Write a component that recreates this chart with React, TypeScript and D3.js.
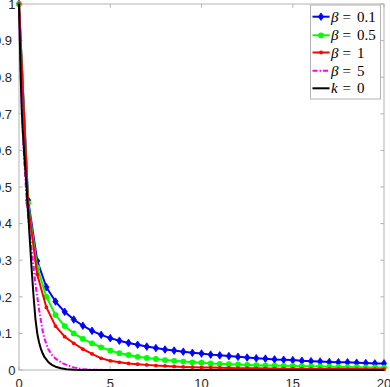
import React from "react";
import * as d3 from "d3";

const tGrid = [0, 0.5, 1, 1.5, 2, 2.5, 3, 3.5, 4, 4.5, 5, 5.5, 6, 6.5, 7, 7.5, 8, 8.5, 9, 9.5, 10, 10.5, 11, 11.5, 12, 12.5, 13, 13.5, 14, 14.5, 15, 15.5, 16, 16.5, 17, 17.5, 18, 18.5, 19, 19.5, 20];

const beta01 = [1, 0.464, 0.298, 0.226, 0.187, 0.159, 0.138, 0.121, 0.107, 0.096, 0.087, 0.080, 0.074, 0.069, 0.064, 0.060, 0.056, 0.053, 0.050, 0.047, 0.045, 0.042, 0.040, 0.038, 0.036, 0.034, 0.032, 0.031, 0.029, 0.028, 0.027, 0.025, 0.024, 0.023, 0.022, 0.021, 0.021, 0.020, 0.019, 0.018, 0.018];

const beta05 = [1, 0.456, 0.28, 0.2, 0.15, 0.12, 0.1, 0.085, 0.073, 0.062, 0.053, 0.046, 0.041, 0.036, 0.033, 0.030, 0.027, 0.025, 0.023, 0.021, 0.020, 0.018, 0.017, 0.016, 0.015, 0.014, 0.013, 0.0125, 0.012, 0.0115, 0.011, 0.0105, 0.010, 0.0095, 0.009, 0.0085, 0.008, 0.0075, 0.007, 0.0068, 0.0065];

const beta1 = [1, 0.45, 0.261, 0.171, 0.12, 0.091, 0.073, 0.057, 0.044, 0.032, 0.025, 0.021, 0.018, 0.016, 0.014, 0.012, 0.011, 0.0095, 0.0085, 0.0078, 0.007, 0.0065, 0.006, 0.0055, 0.005, 0.0048, 0.0045, 0.0042, 0.004, 0.0037, 0.0035, 0.0033, 0.003, 0.0029, 0.0028, 0.0026, 0.0025, 0.0024, 0.0023, 0.0021, 0.002];

const beta5X = [0, 0.1, 0.2, 0.3, 0.4, 0.5, 0.6, 0.7, 0.8, 0.9, 1, 1.1, 1.2, 1.3, 1.4, 1.6, 1.8, 2, 2.2, 2.4, 2.7, 3, 3.5, 4, 5, 10, 20];
const beta5 = [1, 0.8, 0.66, 0.56, 0.48, 0.42, 0.37, 0.325, 0.28, 0.235, 0.2, 0.165, 0.135, 0.105, 0.085, 0.057, 0.041, 0.031, 0.024, 0.018, 0.012, 0.007, 0.0025, 0.0008, 0, 0, 0];

const k0X = [0, 0.05, 0.1, 0.15, 0.2, 0.25, 0.3, 0.4, 0.5, 0.6, 0.7, 0.8, 0.9, 1, 1.1, 1.2, 1.3, 1.4, 1.6, 1.8, 2, 2.3, 2.6, 3, 3.5, 4, 10, 20];
const k0 = [1, 0.89, 0.79, 0.71, 0.66, 0.62, 0.58, 0.51, 0.43, 0.35, 0.27, 0.2, 0.14, 0.1, 0.075, 0.058, 0.045, 0.035, 0.022, 0.014, 0.009, 0.005, 0.002, 0.0007, 0.0002, 0, 0, 0];

const xTicks = [0, 5, 10, 15, 20];
const yTicks = [0, 0.1, 0.2, 0.3, 0.4, 0.5, 0.6, 0.7, 0.8, 0.9, 1];
const yTickLabels = ["0", "0.1", "0.2", "0.3", "0.4", "0.5", "0.6", "0.7", "0.8", "0.9", "1"];
const legendLabels = [
  { sym: "β", val: "0.1" },
  { sym: "β", val: "0.5" },
  { sym: "β", val: "1" },
  { sym: "β", val: "5" },
  { sym: "k", val: "0" },
];

const W = 390;
const H = 387;
const left = 19;
const right = 384;
const top = 4;
const bottom = 370;

export default function App() {
  const x = d3.scaleLinear().domain([0, 20]).range([left, right]);
  const y = d3.scaleLinear().domain([0, 1]).range([bottom, top]);
  const line = d3
    .line<[number, number]>()
    .x((d) => x(d[0]))
    .y((d) => y(d[1]));

  const zip = (xs: number[], ys: number[]) => xs.map((v, i) => [v, ys[i]] as [number, number]);

  const axisColor = "#b3b3b3";
  const textColor = "#262626";

  const diamond = (cx: number, cy: number, key: string | number) => (
    <path
      key={key}
      d={`M${cx},${cy - 3.8}L${cx + 2.6},${cy}L${cx},${cy + 3.8}L${cx - 2.6},${cy}Z`}
      fill="#0000ff"
      stroke="#0000ff"
      strokeWidth={0.8}
    />
  );

  const series = [
    { data: zip(tGrid, beta01), color: "#0000ff", marker: "diamond" },
    { data: zip(tGrid, beta05), color: "#00ff00", marker: "circle" },
    { data: zip(tGrid, beta1), color: "#ff0000", marker: "dot" },
    { data: zip(beta5X, beta5), color: "#ff00ff", marker: "none", dash: "5,2,1.5,2" },
    { data: zip(k0X, k0), color: "#000000", marker: "none" },
  ];

  const drawMarker = (m: string, cx: number, cy: number, key: string | number) => {
    if (m === "diamond") return diamond(cx, cy, key);
    if (m === "circle") return <circle key={key} cx={cx} cy={cy} r={2.9} fill="#00ff00" />;
    if (m === "dot") return <circle key={key} cx={cx} cy={cy} r={1.9} fill="#ff0000" />;
    return null;
  };

  const legX = 310.5;
  const legY = 5;
  const legW = 70;
  const legH = 94;
  const legRows = [16.7, 35.3, 52.5, 70.7, 88.3];

  return (
    <svg
      width={W}
      height={H}
      style={{ position: "absolute", left: 0, top: 0, background: "#fff" }}
      fontFamily="'Liberation Sans', Arial, sans-serif"
    >
      <rect x={0} y={0} width={W} height={H} fill="#fff" />
      {/* axes box */}
      <rect x={left} y={top} width={right - left} height={bottom - top} fill="none" stroke={axisColor} strokeWidth={1} />
      {xTicks.map((t) => (
        <g key={"xt" + t}>
          <line x1={x(t)} x2={x(t)} y1={bottom} y2={bottom - 3.7} stroke={axisColor} />
          <line x1={x(t)} x2={x(t)} y1={top} y2={top + 3.7} stroke={axisColor} />
          <text x={x(t)} y={388} fontSize={13} textAnchor="middle" fill={textColor}>
            {t}
          </text>
        </g>
      ))}
      {yTicks.map((t, i) => {
        const lab = yTickLabels[i];
        const rx = lab.length > 1 ? 12 : 15.5;
        return (
          <g key={"yt" + t}>
            <line x1={left} x2={left + 3.7} y1={y(t)} y2={y(t)} stroke={axisColor} />
            <line x1={right} x2={right - 3.7} y1={y(t)} y2={y(t)} stroke={axisColor} />
            <text x={rx} y={y(t) + 4.7} fontSize={13} textAnchor="end" fill={textColor}>
              {lab}
            </text>
          </g>
        );
      })}
      {/* series */}
      {series.map((s, si) => (
        <g key={"s" + si}>
          <path
            d={line(s.data) || ""}
            fill="none"
            stroke={s.color}
            strokeWidth={2}
            strokeDasharray={s.dash}
            strokeLinejoin="round"
          />
          {s.data.map((d, i) => drawMarker(s.marker, x(d[0]), y(d[1]), i))}
        </g>
      ))}
      {/* legend */}
      <rect x={legX} y={legY} width={legW} height={legH} fill="#fff" stroke={axisColor} strokeWidth={1} />
      {series.map((s, i) => {
        const ly = legRows[i];
        return (
          <g key={"lg" + i}>
            <line
              x1={312.5}
              x2={329.5}
              y1={ly}
              y2={ly}
              stroke={s.color}
              strokeWidth={2}
              strokeDasharray={s.dash}
            />
            {drawMarker(s.marker, 321, ly, "m")}
            <text
              x={331}
              y={ly + 5}
              fontSize={15}
              fontFamily="'Liberation Serif', 'DejaVu Serif', serif"
              fontStyle="italic"
              fill="#000"
            >
              {legendLabels[i].sym}
            </text>
            <text
              x={342.5}
              y={ly + 5}
              fontSize={15}
              fontFamily="'Liberation Serif', 'DejaVu Serif', serif"
              fill="#000"
            >
              =
            </text>
            <text
              x={357}
              y={ly + 5}
              fontSize={15}
              fontFamily="'Liberation Serif', 'DejaVu Serif', serif"
              fill="#000"
            >
              {legendLabels[i].val}
            </text>
          </g>
        );
      })}
    </svg>
  );
}
